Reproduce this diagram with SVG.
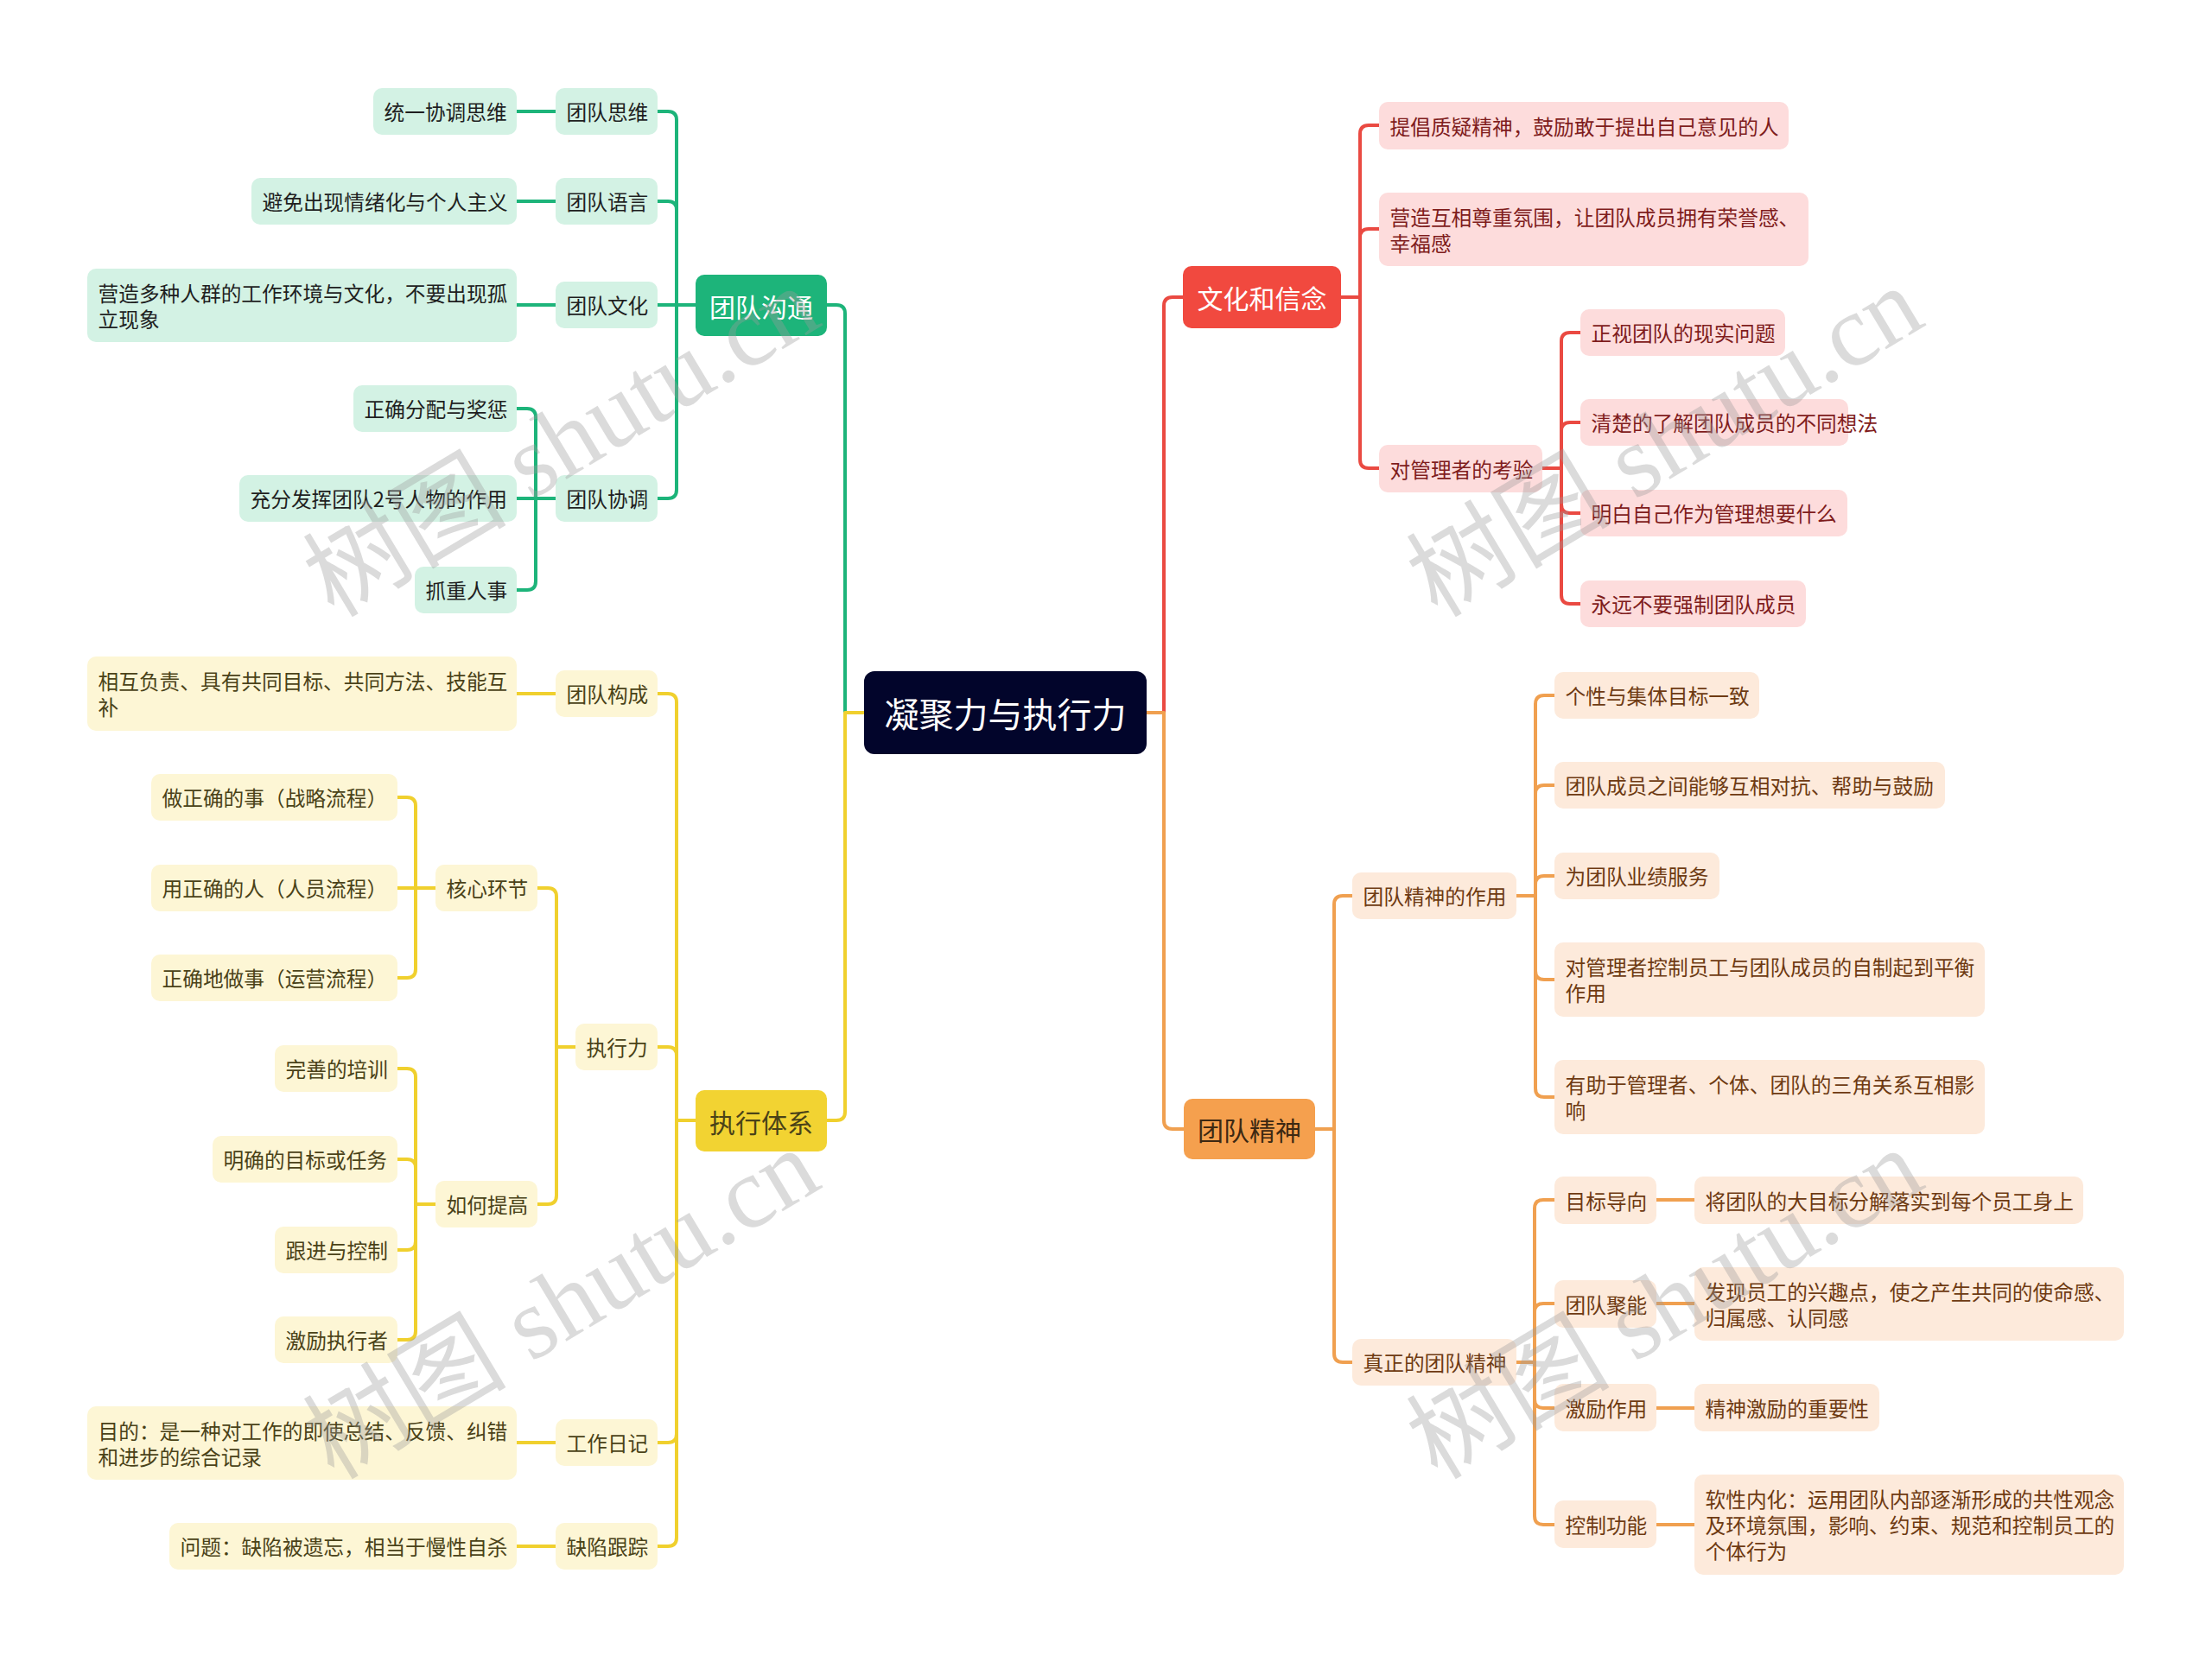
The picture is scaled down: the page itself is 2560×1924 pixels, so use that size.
<svg xmlns="http://www.w3.org/2000/svg" width="2560" height="1924" viewBox="0 0 2560 1924">
<style>
text{font-family:"Noto Sans CJK SC","Noto Sans",sans-serif;dominant-baseline:central}
.t{font-size:23.7px}
.m{font-size:30px;text-anchor:middle}
.c{font-size:40px;text-anchor:middle;fill:#fff}
.lk{fill:none;stroke-width:4;stroke-linecap:round;stroke-linejoin:round}
.gl{stroke:#1db47a}.yl{stroke:#f0d02e}.rl{stroke:#ea4a42}.ol{stroke:#f0a050}
.gM{fill:#1db47a}.gL{fill:#d3f2e4}.gT{fill:#1f1f1f}
.yM{fill:#f2d332}.yL{fill:#fdf6d5}.yT{fill:#4a4218}
.rM{fill:#f1493f}.rL{fill:#fddcdc}.rT{fill:#7f1c1c}
.oM{fill:#f5a04e}.oL{fill:#fdeadb}.oT{fill:#6e3a12}
.wm{font-family:"Liberation Serif","Noto Sans CJK SC",serif;font-size:118px;fill:#9a9a9a;fill-opacity:0.36;text-anchor:middle}
</style>
<rect width="2560" height="1924" fill="#ffffff"/>
<g id="connectors">
<path class="lk gl" d="M1000 825H978V363Q978 353 968 353H957"/>
<path class="lk gl" d="M805 353H783V139Q783 129 773 129H761"/>
<path class="lk gl" d="M805 353H783V243Q783 233 773 233H761"/>
<path class="lk gl" d="M805 353H761"/>
<path class="lk gl" d="M805 353H783V567Q783 577 773 577H761"/>
<path class="lk gl" d="M643 129H598"/>
<path class="lk gl" d="M643 233H598"/>
<path class="lk gl" d="M643 353H598"/>
<path class="lk gl" d="M643 577H620V483Q620 473 610 473H598"/>
<path class="lk gl" d="M643 577H598"/>
<path class="lk gl" d="M643 577H620V673Q620 683 610 683H598"/>
<path class="lk yl" d="M1000 825H978V1287Q978 1297 968 1297H957"/>
<path class="lk yl" d="M805 1297H783V813Q783 803 773 803H761"/>
<path class="lk yl" d="M805 1297H783V1222Q783 1212 773 1212H761"/>
<path class="lk yl" d="M805 1297H783V1660Q783 1670 773 1670H761"/>
<path class="lk yl" d="M805 1297H783V1780Q783 1790 773 1790H761"/>
<path class="lk yl" d="M643 803H598"/>
<path class="lk yl" d="M666 1212H644V1038Q644 1028 634 1028H622"/>
<path class="lk yl" d="M666 1212H644V1384Q644 1394 634 1394H622"/>
<path class="lk yl" d="M504 1028H481V933Q481 923 471 923H460"/>
<path class="lk yl" d="M504 1028H460"/>
<path class="lk yl" d="M504 1028H481V1122Q481 1132 471 1132H460"/>
<path class="lk yl" d="M504 1394H481V1247Q481 1237 471 1237H460"/>
<path class="lk yl" d="M504 1394H481V1352Q481 1342 471 1342H460"/>
<path class="lk yl" d="M504 1394H481V1437Q481 1447 471 1447H460"/>
<path class="lk yl" d="M504 1394H481V1541Q481 1551 471 1551H460"/>
<path class="lk yl" d="M643 1670H598"/>
<path class="lk yl" d="M643 1790H598"/>
<path class="lk rl" d="M1327 825H1347V354Q1347 344 1357 344H1369"/>
<path class="lk rl" d="M1552 344H1574V155Q1574 145 1584 145H1596"/>
<path class="lk rl" d="M1552 344H1574V275Q1574 265 1584 265H1596"/>
<path class="lk rl" d="M1552 344H1574V532Q1574 542 1584 542H1596"/>
<path class="lk rl" d="M1785 542H1807V395Q1807 385 1817 385H1829"/>
<path class="lk rl" d="M1785 542H1807V499Q1807 489 1817 489H1829"/>
<path class="lk rl" d="M1785 542H1807V584Q1807 594 1817 594H1829"/>
<path class="lk rl" d="M1785 542H1807V689Q1807 699 1817 699H1829"/>
<path class="lk ol" d="M1327 825H1347V1297Q1347 1307 1357 1307H1370"/>
<path class="lk ol" d="M1522 1307H1544V1047Q1544 1037 1554 1037H1565"/>
<path class="lk ol" d="M1522 1307H1544V1567Q1544 1577 1554 1577H1565"/>
<path class="lk ol" d="M1755 1037H1777V815Q1777 805 1787 805H1799"/>
<path class="lk ol" d="M1755 1037H1777V919Q1777 909 1787 909H1799"/>
<path class="lk ol" d="M1755 1037H1777V1024Q1777 1014 1787 1014H1799"/>
<path class="lk ol" d="M1755 1037H1777V1124Q1777 1134 1787 1134H1799"/>
<path class="lk ol" d="M1755 1037H1777V1260Q1777 1270 1787 1270H1799"/>
<path class="lk ol" d="M1754 1577H1776V1399Q1776 1389 1786 1389H1799"/>
<path class="lk ol" d="M1754 1577H1776V1519Q1776 1509 1786 1509H1799"/>
<path class="lk ol" d="M1754 1577H1776V1620Q1776 1630 1786 1630H1799"/>
<path class="lk ol" d="M1754 1577H1776V1755Q1776 1765 1786 1765H1799"/>
<path class="lk ol" d="M1917 1389H1961"/>
<path class="lk ol" d="M1917 1509H1961"/>
<path class="lk ol" d="M1917 1630H1961"/>
<path class="lk ol" d="M1917 1765H1961"/>
</g>
<g id="root"><rect x="1000" y="777" width="327" height="96" rx="12" fill="#02052b"/><text class="c" x="1163.5" y="825">凝聚力与执行力</text></g>
<g id="g0"><rect class="gM" x="805" y="318" width="152" height="71" rx="10"/><text class="m" x="881" y="353.5" fill="#ffffff">团队沟通</text></g>
<g id="g1"><rect class="gL" x="643" y="102" width="118" height="54" rx="10"/><text class="t gT" x="655.5" y="129">团队思维</text></g>
<g id="g2"><rect class="gL" x="643" y="206" width="118" height="54" rx="10"/><text class="t gT" x="655.5" y="233">团队语言</text></g>
<g id="g3"><rect class="gL" x="643" y="326" width="118" height="54" rx="10"/><text class="t gT" x="655.5" y="353">团队文化</text></g>
<g id="g4"><rect class="gL" x="643" y="550" width="118" height="54" rx="10"/><text class="t gT" x="655.5" y="577">团队协调</text></g>
<g id="g1a"><rect class="gL" x="432" y="102" width="166" height="54" rx="10"/><text class="t gT" x="444.5" y="129">统一协调思维</text></g>
<g id="g2a"><rect class="gL" x="291" y="206" width="307" height="54" rx="10"/><text class="t gT" x="303.5" y="233">避免出现情绪化与个人主义</text></g>
<g id="g3a"><rect class="gL" x="101" y="311" width="497" height="85" rx="10"/><text class="t gT" x="113.5" y="338.5">营造多种人群的工作环境与文化，不要出现孤<tspan x="113.5" dy="30">立现象</tspan></text></g>
<g id="g4a"><rect class="gL" x="409" y="446" width="189" height="54" rx="10"/><text class="t gT" x="421.5" y="473">正确分配与奖惩</text></g>
<g id="g4b"><rect class="gL" x="277" y="550" width="321" height="54" rx="10"/><text class="t gT" x="289.5" y="577">充分发挥团队2号人物的作用</text></g>
<g id="g4c"><rect class="gL" x="480" y="656" width="118" height="54" rx="10"/><text class="t gT" x="492.5" y="683">抓重人事</text></g>
<g id="y0"><rect class="yM" x="805" y="1262" width="152" height="71" rx="10"/><text class="m yT" x="881" y="1297.5" fill="#2b2510">执行体系</text></g>
<g id="y1"><rect class="yL" x="643" y="776" width="118" height="54" rx="10"/><text class="t yT" x="655.5" y="803">团队构成</text></g>
<g id="y1a"><rect class="yL" x="101" y="760" width="497" height="86" rx="10"/><text class="t yT" x="113.5" y="788">相互负责、具有共同目标、共同方法、技能互<tspan x="113.5" dy="30">补</tspan></text></g>
<g id="y2"><rect class="yL" x="666" y="1185" width="95" height="54" rx="10"/><text class="t yT" x="678.5" y="1212">执行力</text></g>
<g id="y2a"><rect class="yL" x="504" y="1001" width="118" height="54" rx="10"/><text class="t yT" x="516.5" y="1028">核心环节</text></g>
<g id="y2a1"><rect class="yL" x="175" y="896" width="285" height="54" rx="10"/><text class="t yT" x="187.5" y="923">做正确的事（战略流程）</text></g>
<g id="y2a2"><rect class="yL" x="175" y="1001" width="285" height="54" rx="10"/><text class="t yT" x="187.5" y="1028">用正确的人（人员流程）</text></g>
<g id="y2a3"><rect class="yL" x="175" y="1105" width="285" height="54" rx="10"/><text class="t yT" x="187.5" y="1132">正确地做事（运营流程）</text></g>
<g id="y2b"><rect class="yL" x="504" y="1367" width="118" height="54" rx="10"/><text class="t yT" x="516.5" y="1394">如何提高</text></g>
<g id="y2b1"><rect class="yL" x="318" y="1210" width="142" height="54" rx="10"/><text class="t yT" x="330.5" y="1237">完善的培训</text></g>
<g id="y2b2"><rect class="yL" x="246" y="1315" width="214" height="54" rx="10"/><text class="t yT" x="258.5" y="1342">明确的目标或任务</text></g>
<g id="y2b3"><rect class="yL" x="318" y="1420" width="142" height="54" rx="10"/><text class="t yT" x="330.5" y="1447">跟进与控制</text></g>
<g id="y2b4"><rect class="yL" x="318" y="1524" width="142" height="54" rx="10"/><text class="t yT" x="330.5" y="1551">激励执行者</text></g>
<g id="y3"><rect class="yL" x="643" y="1643" width="118" height="54" rx="10"/><text class="t yT" x="655.5" y="1670">工作日记</text></g>
<g id="y3a"><rect class="yL" x="101" y="1628" width="497" height="85" rx="10"/><text class="t yT" x="113.5" y="1655.5">目的：是一种对工作的即使总结、反馈、纠错<tspan x="113.5" dy="30">和进步的综合记录</tspan></text></g>
<g id="y4"><rect class="yL" x="643" y="1763" width="118" height="54" rx="10"/><text class="t yT" x="655.5" y="1790">缺陷跟踪</text></g>
<g id="y4a"><rect class="yL" x="196" y="1763" width="402" height="54" rx="10"/><text class="t yT" x="208.5" y="1790">问题：缺陷被遗忘，相当于慢性自杀</text></g>
<g id="r0"><rect class="rM" x="1369" y="308" width="183" height="72" rx="10"/><text class="m" x="1460.5" y="344" fill="#ffffff">文化和信念</text></g>
<g id="r1"><rect class="rL" x="1596" y="118" width="474" height="55" rx="10"/><text class="t rT" x="1608.5" y="145.5">提倡质疑精神，鼓励敢于提出自己意见的人</text></g>
<g id="r2"><rect class="rL" x="1596" y="223" width="497" height="85" rx="10"/><text class="t rT" x="1608.5" y="250.5">营造互相尊重氛围，让团队成员拥有荣誉感、<tspan x="1608.5" dy="30">幸福感</tspan></text></g>
<g id="r3"><rect class="rL" x="1596" y="515" width="189" height="55" rx="10"/><text class="t rT" x="1608.5" y="542.5">对管理者的考验</text></g>
<g id="r3a"><rect class="rL" x="1829" y="358" width="237" height="54" rx="10"/><text class="t rT" x="1841.5" y="385">正视团队的现实问题</text></g>
<g id="r3b"><rect class="rL" x="1829" y="462" width="310" height="54" rx="10"/><text class="t rT" x="1841.5" y="489">清楚的了解团队成员的不同想法</text></g>
<g id="r3c"><rect class="rL" x="1829" y="567" width="309" height="54" rx="10"/><text class="t rT" x="1841.5" y="594">明白自己作为管理想要什么</text></g>
<g id="r3d"><rect class="rL" x="1829" y="672" width="261" height="54" rx="10"/><text class="t rT" x="1841.5" y="699">永远不要强制团队成员</text></g>
<g id="o0"><rect class="oM" x="1370" y="1272" width="152" height="70" rx="10"/><text class="m" x="1446" y="1307" fill="#3d2812">团队精神</text></g>
<g id="o1"><rect class="oL" x="1565" y="1010" width="190" height="54" rx="10"/><text class="t oT" x="1577.5" y="1037">团队精神的作用</text></g>
<g id="o1a"><rect class="oL" x="1799" y="778" width="237" height="54" rx="10"/><text class="t oT" x="1811.5" y="805">个性与集体目标一致</text></g>
<g id="o1b"><rect class="oL" x="1799" y="882" width="452" height="54" rx="10"/><text class="t oT" x="1811.5" y="909">团队成员之间能够互相对抗、帮助与鼓励</text></g>
<g id="o1c"><rect class="oL" x="1799" y="987" width="191" height="54" rx="10"/><text class="t oT" x="1811.5" y="1014">为团队业绩服务</text></g>
<g id="o1d"><rect class="oL" x="1799" y="1091" width="498" height="86" rx="10"/><text class="t oT" x="1811.5" y="1119">对管理者控制员工与团队成员的自制起到平衡<tspan x="1811.5" dy="30">作用</tspan></text></g>
<g id="o1e"><rect class="oL" x="1799" y="1227" width="498" height="86" rx="10"/><text class="t oT" x="1811.5" y="1255">有助于管理者、个体、团队的三角关系互相影<tspan x="1811.5" dy="30">响</tspan></text></g>
<g id="o2"><rect class="oL" x="1565" y="1550" width="190" height="54" rx="10"/><text class="t oT" x="1577.5" y="1577">真正的团队精神</text></g>
<g id="o2a"><rect class="oL" x="1799" y="1362" width="118" height="55" rx="10"/><text class="t oT" x="1811.5" y="1389.5">目标导向</text></g>
<g id="o2b"><rect class="oL" x="1799" y="1482" width="118" height="55" rx="10"/><text class="t oT" x="1811.5" y="1509.5">团队聚能</text></g>
<g id="o2c"><rect class="oL" x="1799" y="1602" width="118" height="55" rx="10"/><text class="t oT" x="1811.5" y="1629.5">激励作用</text></g>
<g id="o2d"><rect class="oL" x="1799" y="1737" width="118" height="55" rx="10"/><text class="t oT" x="1811.5" y="1764.5">控制功能</text></g>
<g id="o2a1"><rect class="oL" x="1961" y="1362" width="450" height="55" rx="10"/><text class="t oT" x="1973.5" y="1389.5">将团队的大目标分解落实到每个员工身上</text></g>
<g id="o2b1"><rect class="oL" x="1961" y="1467" width="497" height="85" rx="10"/><text class="t oT" x="1973.5" y="1494.5">发现员工的兴趣点，使之产生共同的使命感、<tspan x="1973.5" dy="30">归属感、认同感</tspan></text></g>
<g id="o2c1"><rect class="oL" x="1961" y="1602" width="214" height="55" rx="10"/><text class="t oT" x="1973.5" y="1629.5">精神激励的重要性</text></g>
<g id="o2d1"><rect class="oL" x="1961" y="1707" width="497" height="116" rx="10"/><text class="t oT" x="1973.5" y="1735">软性内化：运用团队内部逐渐形成的共性观念<tspan x="1973.5" dy="30">及环境氛围，影响、约束、规范和控制员工的</tspan><tspan x="1973.5" dy="30">个体行为</tspan></text></g>
<g id="watermarks">
<text class="wm" x="650" y="512" transform="rotate(-31 650 512)">树图 shutu.cn</text>
<text class="wm" x="650" y="1510" transform="rotate(-31 650 1510)">树图 shutu.cn</text>
<text class="wm" x="1927" y="512" transform="rotate(-31 1927 512)">树图 shutu.cn</text>
<text class="wm" x="1927" y="1510" transform="rotate(-31 1927 1510)">树图 shutu.cn</text>
</g>
</svg>
